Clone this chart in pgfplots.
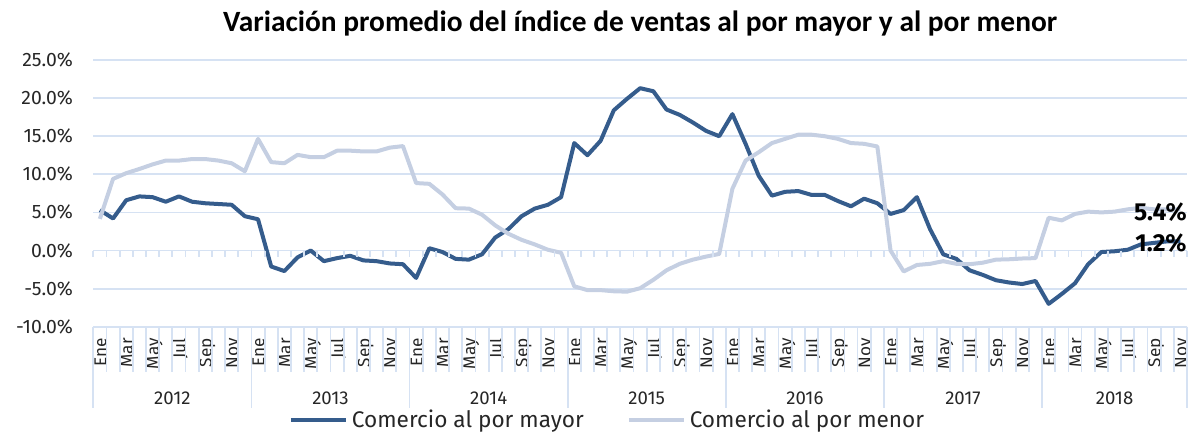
\documentclass[border=0pt]{standalone}
\usepackage{pgfplots}
\pgfplotsset{compat=1.18}
\usepackage{fontspec}
\setmainfont{Fira Sans}
\newfontfamily\titlefont{Carlito}
\definecolor{dark}{HTML}{355C8C}
\definecolor{light}{HTML}{C5CFE2}
\definecolor{gridc}{HTML}{D6E2F3}
\definecolor{txt}{HTML}{262626}

\pgfplotstableread{
i mayor menor
0 5.3 4.15
1 4.2 9.4
2 6.6 10.15
3 7.1 10.7
4 7.0 11.3
5 6.4 11.8
6 7.1 11.8
7 6.4 12.0
8 6.2 12.0
9 6.1 11.8
10 6.0 11.45
11 4.5 10.4
12 4.1 14.65
13 -2.1 11.6
14 -2.7 11.45
15 -0.9 12.55
16 0.0 12.25
17 -1.4 12.25
18 -1.0 13.1
19 -0.7 13.1
20 -1.3 13.0
21 -1.4 13.0
22 -1.7 13.5
23 -1.8 13.7
24 -3.6 8.85
25 0.3 8.75
26 -0.2 7.35
27 -1.1 5.55
28 -1.2 5.5
29 -0.5 4.7
30 1.7 3.3
31 2.8 2.2
32 4.5 1.4
33 5.5 0.8
34 6.0 0.1
35 7.0 -0.3
36 14.1 -4.7
37 12.5 -5.2
38 14.4 -5.2
39 18.4 -5.35
40 19.9 -5.4
41 21.3 -4.95
42 20.9 -3.85
43 18.5 -2.6
44 17.8 -1.75
45 16.8 -1.2
46 15.7 -0.8
47 15.0 -0.45
48 17.9 8.1
49 14.0 11.8
50 9.8 12.9
51 7.2 14.1
52 7.7 14.65
53 7.8 15.2
54 7.3 15.2
55 7.3 15.0
56 6.5 14.65
57 5.8 14.1
58 6.8 14.0
59 6.2 13.65
60 4.8 0.0
61 5.3 -2.75
62 7.0 -1.9
63 2.8 -1.75
64 -0.5 -1.4
65 -1.1 -1.75
66 -2.6 -1.8
67 -3.2 -1.6
68 -3.9 -1.2
69 -4.2 -1.15
70 -4.4 -1.05
71 -4.0 -1.0
72 -7.0 4.3
73 -5.7 3.95
74 -4.3 4.8
75 -1.8 5.1
76 -0.2 5.0
77 -0.1 5.1
78 0.1 5.4
79 0.8 5.6
80 1.0 5.4
81 1.2 5.4
82 1.2 5.4
}\datatable

\begin{document}
\begin{tikzpicture}
\begin{axis}[
  name=ax,
  scale only axis,
  width=546.85pt, height=133.35pt,
  xmin=-0.5, xmax=82.5, ymin=-10, ymax=25,
  clip=false,
  ytick={-10,-5,...,25},
  ymajorgrids,
  grid style={gridc, line width=0.9pt},
  axis x line*=bottom,
  axis y line*=left,
  x axis line style={gridc, line width=0.9pt},
  y axis line style={draw=none},
  major tick length=0pt,
  /pgf/number format/assume math mode=true,
  yticklabel={\pgfmathprintnumber[fixed,fixed zerofill,precision=1]{\tick}\%},
  yticklabel style={inner sep=0pt, anchor=east, xshift=-10pt, font=\fontsize{9.7}{11}\selectfont, text=txt},
  xtick={0,2,...,82},
  xticklabels={Ene,Mar,May,Jul,Sep,Nov,Ene,Mar,May,Jul,Sep,Nov,Ene,Mar,May,Jul,Sep,Nov,Ene,Mar,May,Jul,Sep,Nov,Ene,Mar,May,Jul,Sep,Nov,Ene,Mar,May,Jul,Sep,Nov,Ene,Mar,May,Jul,Sep,Nov},
  xticklabel style={inner sep=0pt, xshift=3.2pt, yshift=-5.5pt, rotate=90, anchor=base east, font=\fontsize{8.6}{10}\selectfont, text=txt},
  legend style={at={(0.4711,-0.35)}, anchor=center, draw=none, fill=none,
     legend columns=2, font=\fontsize{11.3}{13}\selectfont, text=txt,
     /tikz/every even column/.append style={column sep=19.5pt},
     inner sep=0pt},
  legend image code/.code={\draw[#1] (0pt,0pt) -- (27.5pt,0pt);},
]
\addplot[dark, line width=2pt, line join=round] table[x=i, y=mayor] {\datatable};
\addlegendentry{Comercio al por mayor}
\addplot[light, line width=2pt, line join=round] table[x=i, y=menor] {\datatable};
\addlegendentry{Comercio al por menor}

\pgfplotsinvokeforeach{-0.5,0.5,...,82.5}{
  \draw[gridc, line width=0.9pt] (axis cs:#1,-10) -- ++(0pt,-22.5pt);
  \draw[gridc, line width=0.9pt] (axis cs:#1,0) -- ++(0pt,-3pt);
}
\pgfplotsinvokeforeach{-0.5,11.5,23.5,35.5,47.5,59.5,71.5,82.5}{
  \draw[gridc, line width=0.9pt] (axis cs:#1,-10) -- ++(0pt,-40.65pt);
}
\node[font=\fontsize{9.3}{11}\selectfont, text=txt, yshift=-35.7pt] at (axis cs:5.5,-10) {2012};
\node[font=\fontsize{9.3}{11}\selectfont, text=txt, yshift=-35.7pt] at (axis cs:17.5,-10) {2013};
\node[font=\fontsize{9.3}{11}\selectfont, text=txt, yshift=-35.7pt] at (axis cs:29.5,-10) {2014};
\node[font=\fontsize{9.3}{11}\selectfont, text=txt, yshift=-35.7pt] at (axis cs:41.5,-10) {2015};
\node[font=\fontsize{9.3}{11}\selectfont, text=txt, yshift=-35.7pt] at (axis cs:53.5,-10) {2016};
\node[font=\fontsize{9.3}{11}\selectfont, text=txt, yshift=-35.7pt] at (axis cs:65.5,-10) {2017};
\node[font=\fontsize{9.3}{11}\selectfont, text=txt, yshift=-35.7pt] at (axis cs:77,-10) {2018};

\node[anchor=east, inner sep=0pt, font=\bfseries\fontsize{12.3}{14}\selectfont] at (axis cs:82.5,5.0) {5.4\%};
\node[anchor=east, inner sep=0pt, font=\bfseries\fontsize{12.3}{14}\selectfont] at (axis cs:82.5,1.0) {1.2\%};

\node[anchor=base, inner sep=0pt, yshift=14pt, font=\titlefont\bfseries\fontsize{14.7}{17}\selectfont] at (rel axis cs:0.5,1) {Variación promedio del índice de ventas al por mayor y al por menor};
\end{axis}
\pgfresetboundingbox
\useasboundingbox ([shift={(-46.65pt,-53.15pt)}]ax.south west) rectangle ([shift={(3.5pt,30pt)}]ax.north east);
\end{tikzpicture}
\end{document}
